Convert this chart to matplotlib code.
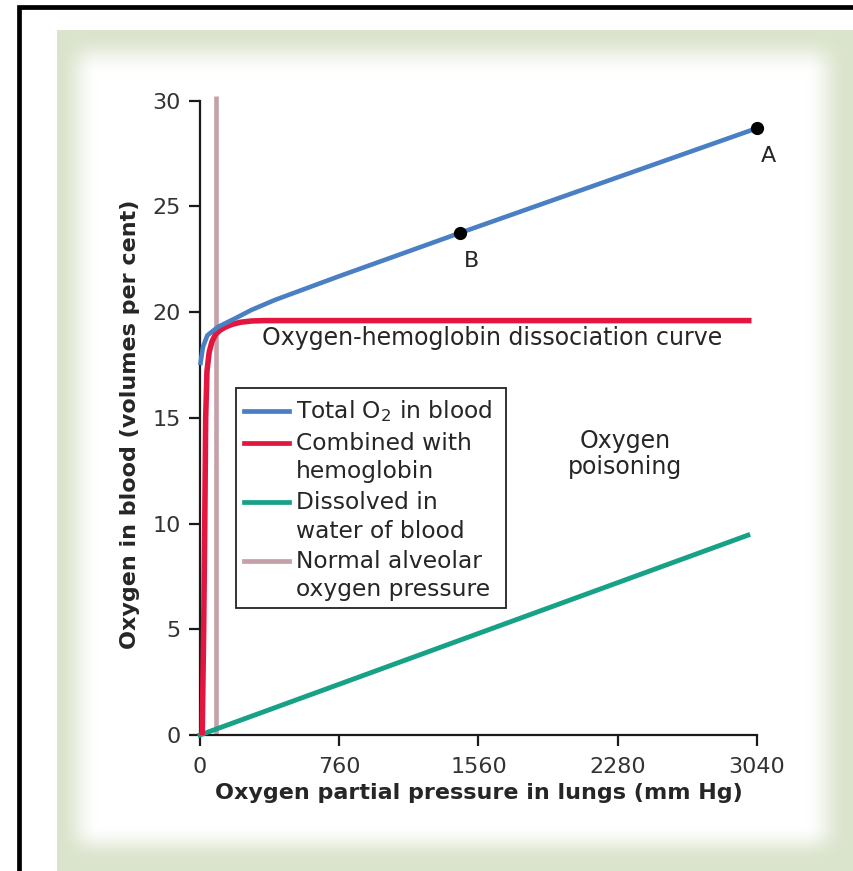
import numpy as np
import matplotlib.pyplot as plt
from matplotlib.patches import Rectangle

# values
pressure_hb = [12, 20, 26, 31, 38, 50, 65, 85, 110, 140, 175, 220, 280, 350, 3010]
o2_hb = [0, 5, 10, 15, 17.2, 18.1, 18.6, 18.95, 19.15, 19.3, 19.42, 19.52, 19.58, 19.6, 19.6]

pressure_total = [3, 16, 40, 98, 191, 280, 410, 760, 1420, 3040]
o2_total = [17.6, 18.35, 18.9, 19.3, 19.7, 20.1, 20.58, 21.7, 23.75, 28.7]

pressure_dissolved = [0, 2990]
o2_dissolved = [0, 9.45]

alveolar_pressure = 90
alveolar_range = [0, 30.2]

point_names = ['A', 'B']
point_x = [3040, 1420]
point_y = [28.7, 23.75]

xtick_pos = [0, 760, 1520, 2280, 3040]
xtick_labels = ['0', '760', '1560', '2280', '3040']
ytick_pos = [0, 5, 10, 15, 20, 25, 30]

legend_labels = ['Total O$_2$ in blood', 'Combined with\nhemoglobin',
                 'Dissolved in\nwater of blood', 'Normal alveolar\noxygen pressure']

c_blue = '#4b7fc4'
c_red = '#e3163f'
c_green = '#17a187'
c_pink = '#c4a0a8'
c_text = '#262626'
legend_colors = [c_blue, c_red, c_green, c_pink]

W, H = 854, 871
fig = plt.figure(figsize=(W / 100, H / 100), dpi=100)

# background frame with soft green panel
bg = fig.add_axes([0, 0, 1, 1])
bg.set_xlim(0, W)
bg.set_ylim(H, 0)
bg.axis('off')
xx, yy = np.meshgrid(np.arange(W) + 0.5, np.arange(H) + 0.5)


def ramp(v, a, b):
    t = np.clip((v - a) / (b - a), 0, 1)
    return t * t * (3 - 2 * t)


w = ramp(xx, 58, 98) * ramp(yy, 32, 74) * ramp(-xx, -848, -806) * ramp(-yy, -862, -826)
green = np.array([218, 227, 203]) / 255.0
img = green[None, None, :] * (1 - w[..., None]) + w[..., None]
inside = (xx >= 57) & (yy >= 30)
img[~inside] = 1.0
bg.imshow(img, extent=(0, W, H, 0), interpolation='bilinear', zorder=0)
bg.plot([19, 19, W], [H, 7, 7], color='black', lw=3.4, solid_joinstyle='miter')

ax = fig.add_axes([200 / W, 1 - 735 / H, 557 / W, (735 - 100.7) / H])
ax.patch.set_alpha(0)

ax.plot([alveolar_pressure, alveolar_pressure], alveolar_range, color=c_pink, lw=3.3,
        solid_capstyle='butt', clip_on=False, zorder=2)
ax.plot(pressure_dissolved, o2_dissolved, color=c_green, lw=3.5, clip_on=False, zorder=3)
ax.plot(pressure_hb, o2_hb, color=c_red, lw=4.0, solid_joinstyle='round',
        solid_capstyle='butt', clip_on=False, zorder=3)
ax.plot(pressure_total, o2_total, color=c_blue, lw=3.3, solid_joinstyle='round',
        clip_on=False, zorder=4)
ax.plot(point_x, point_y, 'o', color='black', ms=8.5, clip_on=False, zorder=5)
for name, px, py in zip(point_names, point_x, point_y):
    ax.annotate(name, (px, py), xytext=(8, -20), textcoords='offset points',
                ha='center', va='center', fontsize=16, color=c_text)

ax.text(340, 18.78, 'Oxygen-hemoglobin dissociation curve', fontsize=17,
        color=c_text, ha='left', va='center')
ax.text(2320, 13.3, 'Oxygen\npoisoning', fontsize=17, color=c_text,
        ha='center', va='center', linespacing=1.1)

ax.set_xlim(0, 3040)
ax.set_ylim(0, 30)
ax.set_xticks(xtick_pos)
ax.set_xticklabels(xtick_labels)
ax.set_yticks(ytick_pos)
for s in ['top', 'right']:
    ax.spines[s].set_visible(False)
for s in ['left', 'bottom']:
    ax.spines[s].set_linewidth(1.6)
    ax.spines[s].set_color('#1a1a1a')
ax.tick_params(axis='both', length=8, width=1.6, color='#1a1a1a',
               labelsize=16, labelcolor='#333333')
ax.tick_params(axis='x', pad=8)
ax.tick_params(axis='y', pad=6)

ax.set_xlabel('Oxygen partial pressure in lungs (mm Hg)', fontsize=16,
              fontweight='bold', color=c_text, va='top')
ax.xaxis.set_label_coords(0.5, -0.076)
ax.set_ylabel('Oxygen in blood (volumes per cent)', fontsize=16,
              fontweight='bold', color=c_text)
ax.yaxis.set_label_coords(-0.108, 0.49)

# hand-drawn legend box
ax.add_patch(Rectangle((0.0646, 0.2002), 0.4844, 0.3468, transform=ax.transAxes,
                       facecolor='white', edgecolor='#222222', lw=1.3, zorder=6,
                       clip_on=False))
row_y = [0.5108, 0.4603, 0.4162, 0.3673, 0.3216, 0.2743, 0.2286]
row = 0
for label, col in zip(legend_labels, legend_colors):
    ax.plot([0.079, 0.160], [row_y[row], row_y[row]], color=col, lw=3.4,
            transform=ax.transAxes, clip_on=False, zorder=7)
    for line in label.split('\n'):
        ax.text(0.172, row_y[row], line, transform=ax.transAxes, fontsize=16.8,
                color=c_text, ha='left', va='center', zorder=7)
        row += 1

fig.savefig('out.png', dpi=100)
